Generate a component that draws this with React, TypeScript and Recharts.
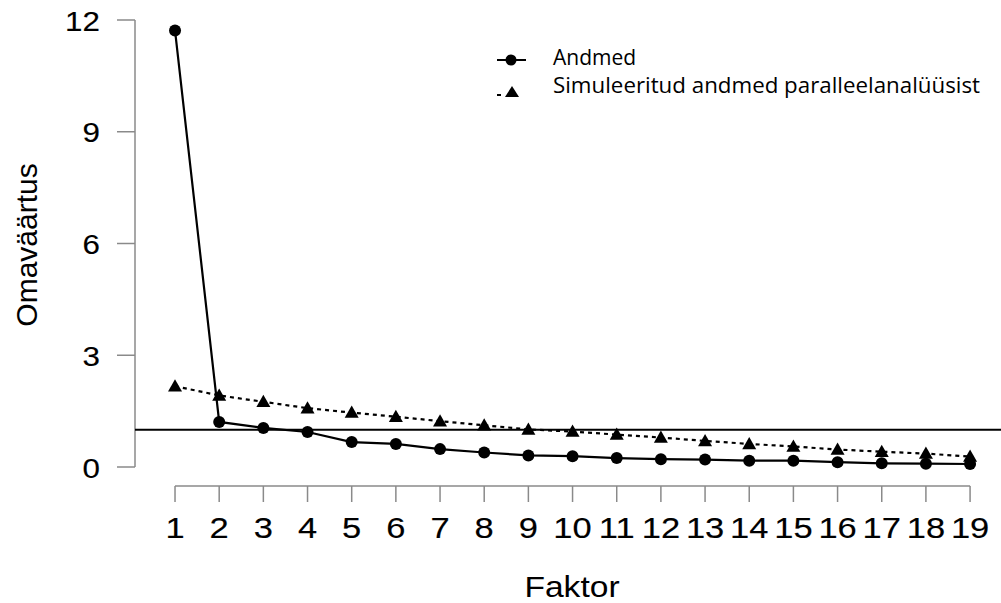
import { LineChart, Line, XAxis, YAxis, ReferenceLine } from 'recharts';

const factors = [1, 2, 3, 4, 5, 6, 7, 8, 9, 10, 11, 12, 13, 14, 15, 16, 17, 18, 19];
const observed = [11.72, 1.21, 1.05, 0.94, 0.67, 0.62, 0.48, 0.39, 0.31, 0.29, 0.24, 0.21, 0.2, 0.17, 0.17, 0.13, 0.1, 0.09, 0.08];
const simulated = [2.17, 1.92, 1.75, 1.58, 1.46, 1.35, 1.23, 1.12, 1.01, 0.95, 0.87, 0.79, 0.7, 0.62, 0.55, 0.47, 0.41, 0.36, 0.28];
const yTicks = [0, 3, 6, 9, 12];
const cutoff = 1;
const legendNames = ['Andmed', 'Simuleeritud andmed paralleelanalüüsist'];

const data = factors.map((f, i) => ({ f, obs: observed[i], sim: simulated[i] }));

const FONT = '"Liberation Sans", Arial, sans-serif';
const LEGEND_FONT = '"Open Sans", sans-serif';
const AXIS_GREY = '#8a8a8a';
const X_MIN = 0.094;
const X_MAX = 19.7;
const Y_MIN = -0.51;

const Triangle = (props: any) => {
  const { cx, cy } = props;
  if (cx == null || cy == null) return null;
  const s = 7;
  return <path d={`M${cx},${cy - s}L${cx + s},${cy + s * 0.75}L${cx - s},${cy + s * 0.75}Z`} fill="#000" />;
};

const XTick = (props: any) => {
  const { x, y, payload } = props;
  return (
    <g transform={`translate(${x},${y + 34})`}>
      <text transform="scale(1.15,1)" textAnchor="middle" fontFamily={FONT} fontSize={30} fill="#000" stroke="#000" strokeWidth={0.15}>
        {payload.value}
      </text>
    </g>
  );
};

const YTick = (props: any) => {
  const { x, y, payload } = props;
  return (
    <g transform={`translate(${x},${y + 10.5})`}>
      <text transform="scale(1.12,1)" textAnchor="end" fontFamily={FONT} fontSize={28} fill="#000" stroke="#000" strokeWidth={0.15}>
        {payload.value}
      </text>
    </g>
  );
};

const LegendBox = () => (
  <svg width={520} height={80} style={{ position: 'absolute', left: 480, top: 30 }}>
    <line x1={17} y1={30} x2={46} y2={30} stroke="#000" strokeWidth={2} />
    <circle cx={31} cy={30} r={5.5} fill="#000" />
    <text x={73} y={35} fontFamily={LEGEND_FONT} fontSize={21} fill="#000">{legendNames[0]}</text>
    <line x1={17} y1={65} x2={22} y2={65} stroke="#000" strokeWidth={2} strokeDasharray="4 4" />
    <path d="M32,56L39,67L25,67Z" fill="#000" />
    <text x={73} y={63} fontFamily={LEGEND_FONT} fontSize={21} fill="#000" textLength={427} lengthAdjust="spacingAndGlyphs">
      {legendNames[1]}
    </text>
  </svg>
);

export default function App() {
  return (
    <div style={{ position: 'absolute', left: 0, top: 0, width: 1001, height: 603, background: '#fff' }}>
      <LineChart width={1001} height={603} data={data} margin={{ top: 20, right: 0, bottom: 0, left: 0 }}>
        <XAxis
          dataKey="f"
          type="number"
          domain={[X_MIN, X_MAX]}
          ticks={factors}
          allowDataOverflow
          interval={0}
          height={117}
          axisLine={false}
          tickSize={16}
          tickLine={{ stroke: AXIS_GREY, strokeWidth: 1.5 }}
          tick={<XTick />}
          label={(p: any) => {
            const vb = p.viewBox;
            return (
              <g transform={`translate(${572},${vb.y + 111})`}>
                <text transform="scale(1.12,1)" textAnchor="middle" fontFamily={FONT} fontSize={30} fill="#000">
                  Faktor
                </text>
              </g>
            );
          }}
        />
        <YAxis
          type="number"
          domain={[Y_MIN, 12]}
          ticks={yTicks}
          allowDataOverflow
          width={135}
          axisLine={false}
          tickSize={18}
          tickLine={{ stroke: AXIS_GREY, strokeWidth: 1.5 }}
          tick={<YTick />}
          tickMargin={17}
          label={() => (
            <text
              transform="translate(37,245) rotate(-90)"
              textAnchor="middle"
              fontFamily={FONT}
              fontSize={30}
              fill="#000"
            >
              Omaväärtus
            </text>
          )}
        />
        <ReferenceLine
          segment={[{ x: 1, y: Y_MIN }, { x: 19, y: Y_MIN }]}
          stroke={AXIS_GREY}
          strokeWidth={1.5}
          ifOverflow="visible"
        />
        <ReferenceLine
          segment={[{ x: X_MIN, y: 0 }, { x: X_MIN, y: 12 }]}
          stroke={AXIS_GREY}
          strokeWidth={1.5}
          ifOverflow="visible"
        />
        <ReferenceLine y={cutoff} stroke="#000" strokeWidth={2} ifOverflow="visible" />
        <Line
          dataKey="sim"
          name={legendNames[1]}
          stroke="#000"
          strokeWidth={2.2}
          strokeDasharray="4 4"
          dot={<Triangle />}
          activeDot={false}
          isAnimationActive={false}
        />
        <Line
          dataKey="obs"
          name={legendNames[0]}
          stroke="#000"
          strokeWidth={2.2}
          dot={{ r: 6, fill: '#000', stroke: 'none' }}
          activeDot={false}
          isAnimationActive={false}
        />
      </LineChart>
      <LegendBox />
    </div>
  );
}
